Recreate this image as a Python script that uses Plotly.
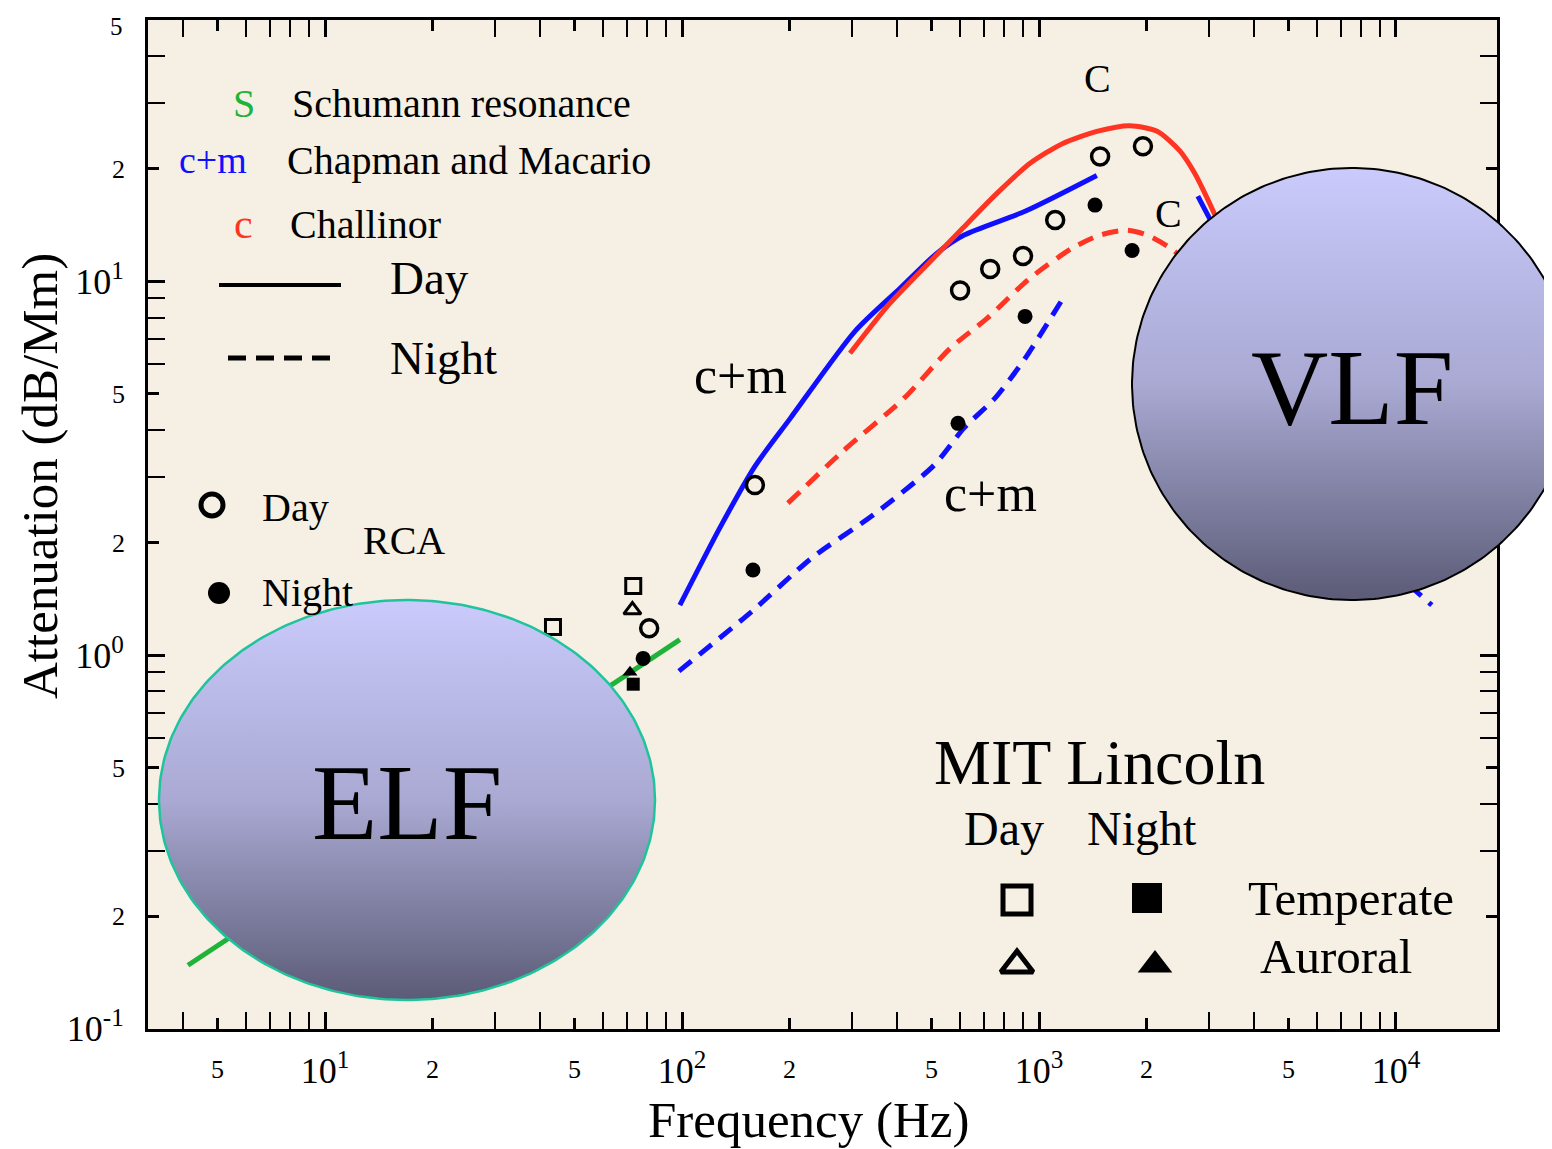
import numpy as np
import plotly.graph_objects as go

# The page adds an 8px body margin, so the figure is sized / placed to compensate.
OFF = 8
W, H = 1552 - OFF, 1149 - OFF
SERIF = "Liberation Serif, Times New Roman, serif"

# ---------------- data ----------------
schumann_freq = [4.13, 98.6]
schumann_att = [0.148, 1.10]

cm_day_freq = [98.6, 127.6, 160, 201, 305, 408, 518, 617, 914, 1452]
cm_day_att = [1.36, 2.19, 3.2, 4.3, 7.35, 9.58, 11.9, 13.3, 15.4, 19.2]
cm_day_hf_freq = [2786, 3055, 3656]
cm_day_hf_att = [16.9, 14.3, 10.5]

cm_night_freq = [98, 157, 231, 343, 508, 616, 753, 914, 1153]
cm_night_att = [0.906, 1.31, 1.82, 2.37, 3.22, 4.05, 4.87, 6.22, 8.84]
cm_night_hf_freq = [9620, 12600]
cm_night_hf_att = [1.71, 1.36]

ch_day_freq = [295.5, 382, 518, 612, 762, 944, 1166, 1452, 1799, 2143, 2484, 2735, 2958, 3540]
ch_day_att = [6.42, 8.73, 11.8, 13.9, 17.2, 20.7, 23.4, 25.2, 26.1, 25.2, 22.3, 19.4, 16.7, 11.5]

ch_night_freq = [198, 282, 419, 564, 715, 944, 1244, 1483, 1762, 2008, 2327, 2650]
ch_night_att = [2.55, 3.51, 4.87, 6.62, 7.96, 10.2, 12.3, 13.3, 13.7, 13.3, 12.3, 11.1]

rca_day_freq = [80.9, 160, 601, 730, 902, 1110, 1483, 1955]
rca_day_att = [1.18, 2.85, 9.46, 10.8, 11.7, 14.6, 21.6, 23.0]
rca_night_freq = [77.8, 158, 593, 914, 1435, 1823]
rca_night_att = [0.98, 1.69, 4.17, 8.06, 16.0, 12.1]

mit_temp_day_freq = [43.5, 73]
mit_temp_day_att = [1.19, 1.53]
mit_aur_day_freq = [72.6]
mit_aur_day_att = [1.32]
mit_temp_night_freq = [73]
mit_temp_night_att = [0.836]
mit_aur_night_freq = [71.5]
mit_aur_night_att = [0.90]

# tick labels: decades (large) and 2/5 sub-labels (small)
x_decade_vals = [10, 100, 1000, 10000]
x_decade_text = ["10<sup>1</sup>", "10<sup>2</sup>", "10<sup>3</sup>", "10<sup>4</sup>"]
x_sub_vals = [5, 20, 50, 200, 500, 2000, 5000]
x_sub_text = ["5", "2", "5", "2", "5", "2", "5"]
x_minor = [4, 6, 7, 8, 9, 30, 40, 60, 70, 80, 90, 300, 400, 600, 700, 800, 900,
           3000, 4000, 6000, 7000, 8000, 9000]

y_decade_vals = [0.1, 1, 10]
y_decade_text = ["10<sup>-1</sup>", "10<sup>0</sup>", "10<sup>1</sup>"]
y_sub_vals = [0.2, 0.5, 2, 5, 20]
y_sub_text = ["2", "5", "2", "5", "2"]
y_top_val = 50
y_top_text = "5"
y_minor = [0.3, 0.4, 0.6, 0.7, 0.8, 0.9, 3, 4, 6, 7, 8, 9, 30, 40]

# ---------------- styles ----------------
BLUE = "#1010ff"
RED = "#ff3422"
GREEN = "#1fb33a"
BG = "#f5f0e3"
DASH = "16px,10px"

fig = go.Figure()

def line(x, y, color, dash="solid", width=5):
    fig.add_trace(go.Scatter(x=x, y=y, mode="lines", line=dict(color=color, width=width, dash=dash,
                             shape="spline", smoothing=0.7), showlegend=False, hoverinfo="skip"))

def pts(x, y, symbol, size, lw=0):
    fig.add_trace(go.Scatter(x=x, y=y, mode="markers",
                             marker=dict(symbol=symbol, size=size, color="black",
                                         line=dict(color="black", width=lw)),
                             showlegend=False, hoverinfo="skip"))

line(schumann_freq, schumann_att, GREEN)
line(cm_day_freq, cm_day_att, BLUE)
line(cm_day_hf_freq, cm_day_hf_att, BLUE)
line(cm_night_freq, cm_night_att, BLUE, DASH)
line(cm_night_hf_freq, cm_night_hf_att, BLUE, DASH)
line(ch_day_freq, ch_day_att, RED)
line(ch_night_freq, ch_night_att, RED, DASH)

pts(rca_day_freq, rca_day_att, "circle-open", 17, 3.5)
pts(rca_night_freq, rca_night_att, "circle", 15)
pts(mit_temp_day_freq, mit_temp_day_att, "square-open", 15, 3)
pts(mit_aur_day_freq, mit_aur_day_att, "triangle-up-open", 15, 3)
pts(mit_temp_night_freq, mit_temp_night_att, "square", 13)
pts(mit_aur_night_freq, mit_aur_night_att, "triangle-up", 13)

# invisible anchors so the overlaid label axes are drawn
fig.add_trace(go.Scatter(x=[10], y=[1], xaxis="x3", yaxis="y", mode="markers",
                         marker=dict(opacity=0), showlegend=False, hoverinfo="skip"))
fig.add_trace(go.Scatter(x=[10], y=[1], xaxis="x", yaxis="y3", mode="markers",
                         marker=dict(opacity=0), showlegend=False, hoverinfo="skip"))

# ---------------- overlay (pixel-space) subplot for decorations ----------------
def px(x):
    return x - OFF

def fy(py):
    return H - (py - OFF)

def ellipse(cx, cy, rx, ry, n=300):
    t = np.linspace(0, 2 * np.pi, n)
    return px(cx + rx * np.cos(t)), fy(cy + ry * np.sin(t))

GRAD = [[0, "#5b5b77"], [0.5, "#a9a9d3"], [1, "#cacafc"]]

for (cx, cy, rx, ry, lc, lw) in [(407, 800, 248, 200, "#1fc49c", 2.5),
                                 (1352, 384, 220, 216, "black", 2)]:
    ex, ey = ellipse(cx, cy, rx, ry)
    fig.add_trace(go.Scatter(x=ex, y=ey, xaxis="x2", yaxis="y2", mode="lines", fill="toself",
                             line=dict(color=lc, width=lw),
                             fillgradient=dict(type="vertical", colorscale=GRAD,
                                               start=fy(cy + ry), stop=fy(cy - ry)),
                             showlegend=False, hoverinfo="skip"))

# legend keys (drawn in pixel space)
legend_keys = [
    (212, 505, "circle-open", 22, 5),
    (219, 593, "circle", 22, 0),
    (1017, 900, "square-open", 28, 5),
    (1147, 898, "square", 30, 0),
    (1017, 965, "triangle-up-open", 28, 5),
    (1155, 965, "triangle-up", 30, 0),
]
for (kx, ky, sym, sz, lw) in legend_keys:
    fig.add_trace(go.Scatter(x=[px(kx)], y=[fy(ky)], xaxis="x2", yaxis="y2", mode="markers",
                             marker=dict(symbol=sym, size=sz, color="black",
                                         line=dict(color="black", width=lw)),
                             showlegend=False, hoverinfo="skip"))

def txt(x, y, s, size, color="black", xanchor="center", angle=0):
    return dict(x=px(x), y=fy(y), xref="x2", yref="y2", text=s, showarrow=False, textangle=angle,
                font=dict(family=SERIF, size=size, color=color), xanchor=xanchor, yanchor="middle")

annotations = [
    txt(244, 103, "S", 40, GREEN),
    txt(290, 103, "Schumann resonance", 40, xanchor="left"),
    txt(213, 160, "c+m", 38, BLUE),
    txt(285, 160, "Chapman and Macario", 40, xanchor="left"),
    txt(243, 224, "c", 42, RED),
    txt(288, 224, "Challinor", 40, xanchor="left"),
    txt(388, 278, "Day", 47, xanchor="left"),
    txt(388, 358, "Night", 47, xanchor="left"),
    txt(260, 507, "Day", 40, xanchor="left"),
    txt(404, 540, "RCA", 40),
    txt(260, 592, "Night", 40, xanchor="left"),
    txt(740, 375, "c+m", 52),
    txt(990, 493, "c+m", 52),
    txt(1097, 78, "C", 40),
    txt(1168, 213, "C", 40),
    txt(1099, 762, "MIT Lincoln", 64),
    txt(1004, 828, "Day", 48),
    txt(1142, 828, "Night", 48),
    txt(1246, 898, "Temperate", 49, xanchor="left"),
    txt(1258, 956, "Auroral", 49, xanchor="left"),
    txt(407, 803, "ELF", 107),
    txt(1352, 388, "VLF", 107),
    txt(808, 1120, "Frequency (Hz)", 51),
    txt(40, 476, "Attenuation (dB/Mm)", 51, angle=-90),
    # top-end tick label of the y axis (placed on the y scale)
    dict(x=-0.018, y=float(np.log10(y_top_val)), xref="x domain", yref="y", text=y_top_text,
         showarrow=False, xanchor="right", yanchor="middle", yshift=-6, borderpad=0,
         font=dict(family=SERIF, size=25, color="black")),
]

shapes = [
    dict(type="rect", xref="x domain", yref="y domain", x0=0, x1=1, y0=0, y1=1,
         fillcolor=BG, line=dict(width=0), layer="below"),
    dict(type="line", xref="x2", yref="y2", x0=px(219), x1=px(341), y0=fy(285), y1=fy(285),
         line=dict(color="black", width=4)),
    dict(type="line", xref="x2", yref="y2", x0=px(228), x1=px(332), y0=fy(358), y1=fy(358),
         line=dict(color="black", width=5, dash="18px,10px")),
]

axis_common = dict(showgrid=False, zeroline=False, showline=True, linewidth=3, linecolor="black",
                   mirror="allticks", ticks="inside", ticklen=17, tickwidth=2.5, tickcolor="black",
                   tickfont=dict(family=SERIF, size=36, color="black"), tickmode="array",
                   automargin=False)
sub_common = dict(showgrid=False, zeroline=False, showline=False, mirror="ticks", ticks="inside",
                  ticklen=11, tickwidth=2.5, tickcolor="black", tickmode="array",
                  tickfont=dict(family=SERIF, size=26, color="black"), automargin=False)
minor_common = dict(ticks="inside", ticklen=7, tickwidth=2, tickcolor="black")

EPS = 0.0004
XR = [0.504, 4.283]
YR = [-1 - EPS, float(np.log10(50)) + EPS]
XD = [(148 - OFF) / W, (1497 - OFF) / W]
YD = [1 - (1029 - OFF) / H, 1 - (20 - OFF) / H]

fig.update_layout(
    width=W, height=H, margin=dict(l=0, r=0, t=0, b=0),
    paper_bgcolor="white", plot_bgcolor="rgba(0,0,0,0)",
    xaxis=dict(type="log", range=XR, domain=XD,
               tickvals=x_decade_vals, ticktext=x_decade_text, ticklabelstandoff=8,
               minor=dict(tickvals=x_minor, **minor_common), **axis_common),
    xaxis3=dict(type="log", range=XR, overlaying="x", anchor="y", side="bottom",
                tickvals=x_sub_vals, ticktext=x_sub_text, ticklabelstandoff=22, **sub_common),
    yaxis=dict(type="log", range=YR, domain=YD,
               tickvals=y_decade_vals, ticktext=y_decade_text, ticklabelstandoff=14,
               minor=dict(tickvals=y_minor, **minor_common), **axis_common),
    yaxis3=dict(type="log", range=YR, overlaying="y", anchor="x", side="left",
                tickvals=y_sub_vals, ticktext=y_sub_text, ticklabelstandoff=22, **sub_common),
    xaxis2=dict(domain=[0, 1], range=[0, W], visible=False, anchor="y2", fixedrange=True),
    yaxis2=dict(domain=[0, 1], range=[0, H], visible=False, anchor="x2", fixedrange=True),
    annotations=annotations,
    shapes=shapes,
)

fig.write_html("out.html")
